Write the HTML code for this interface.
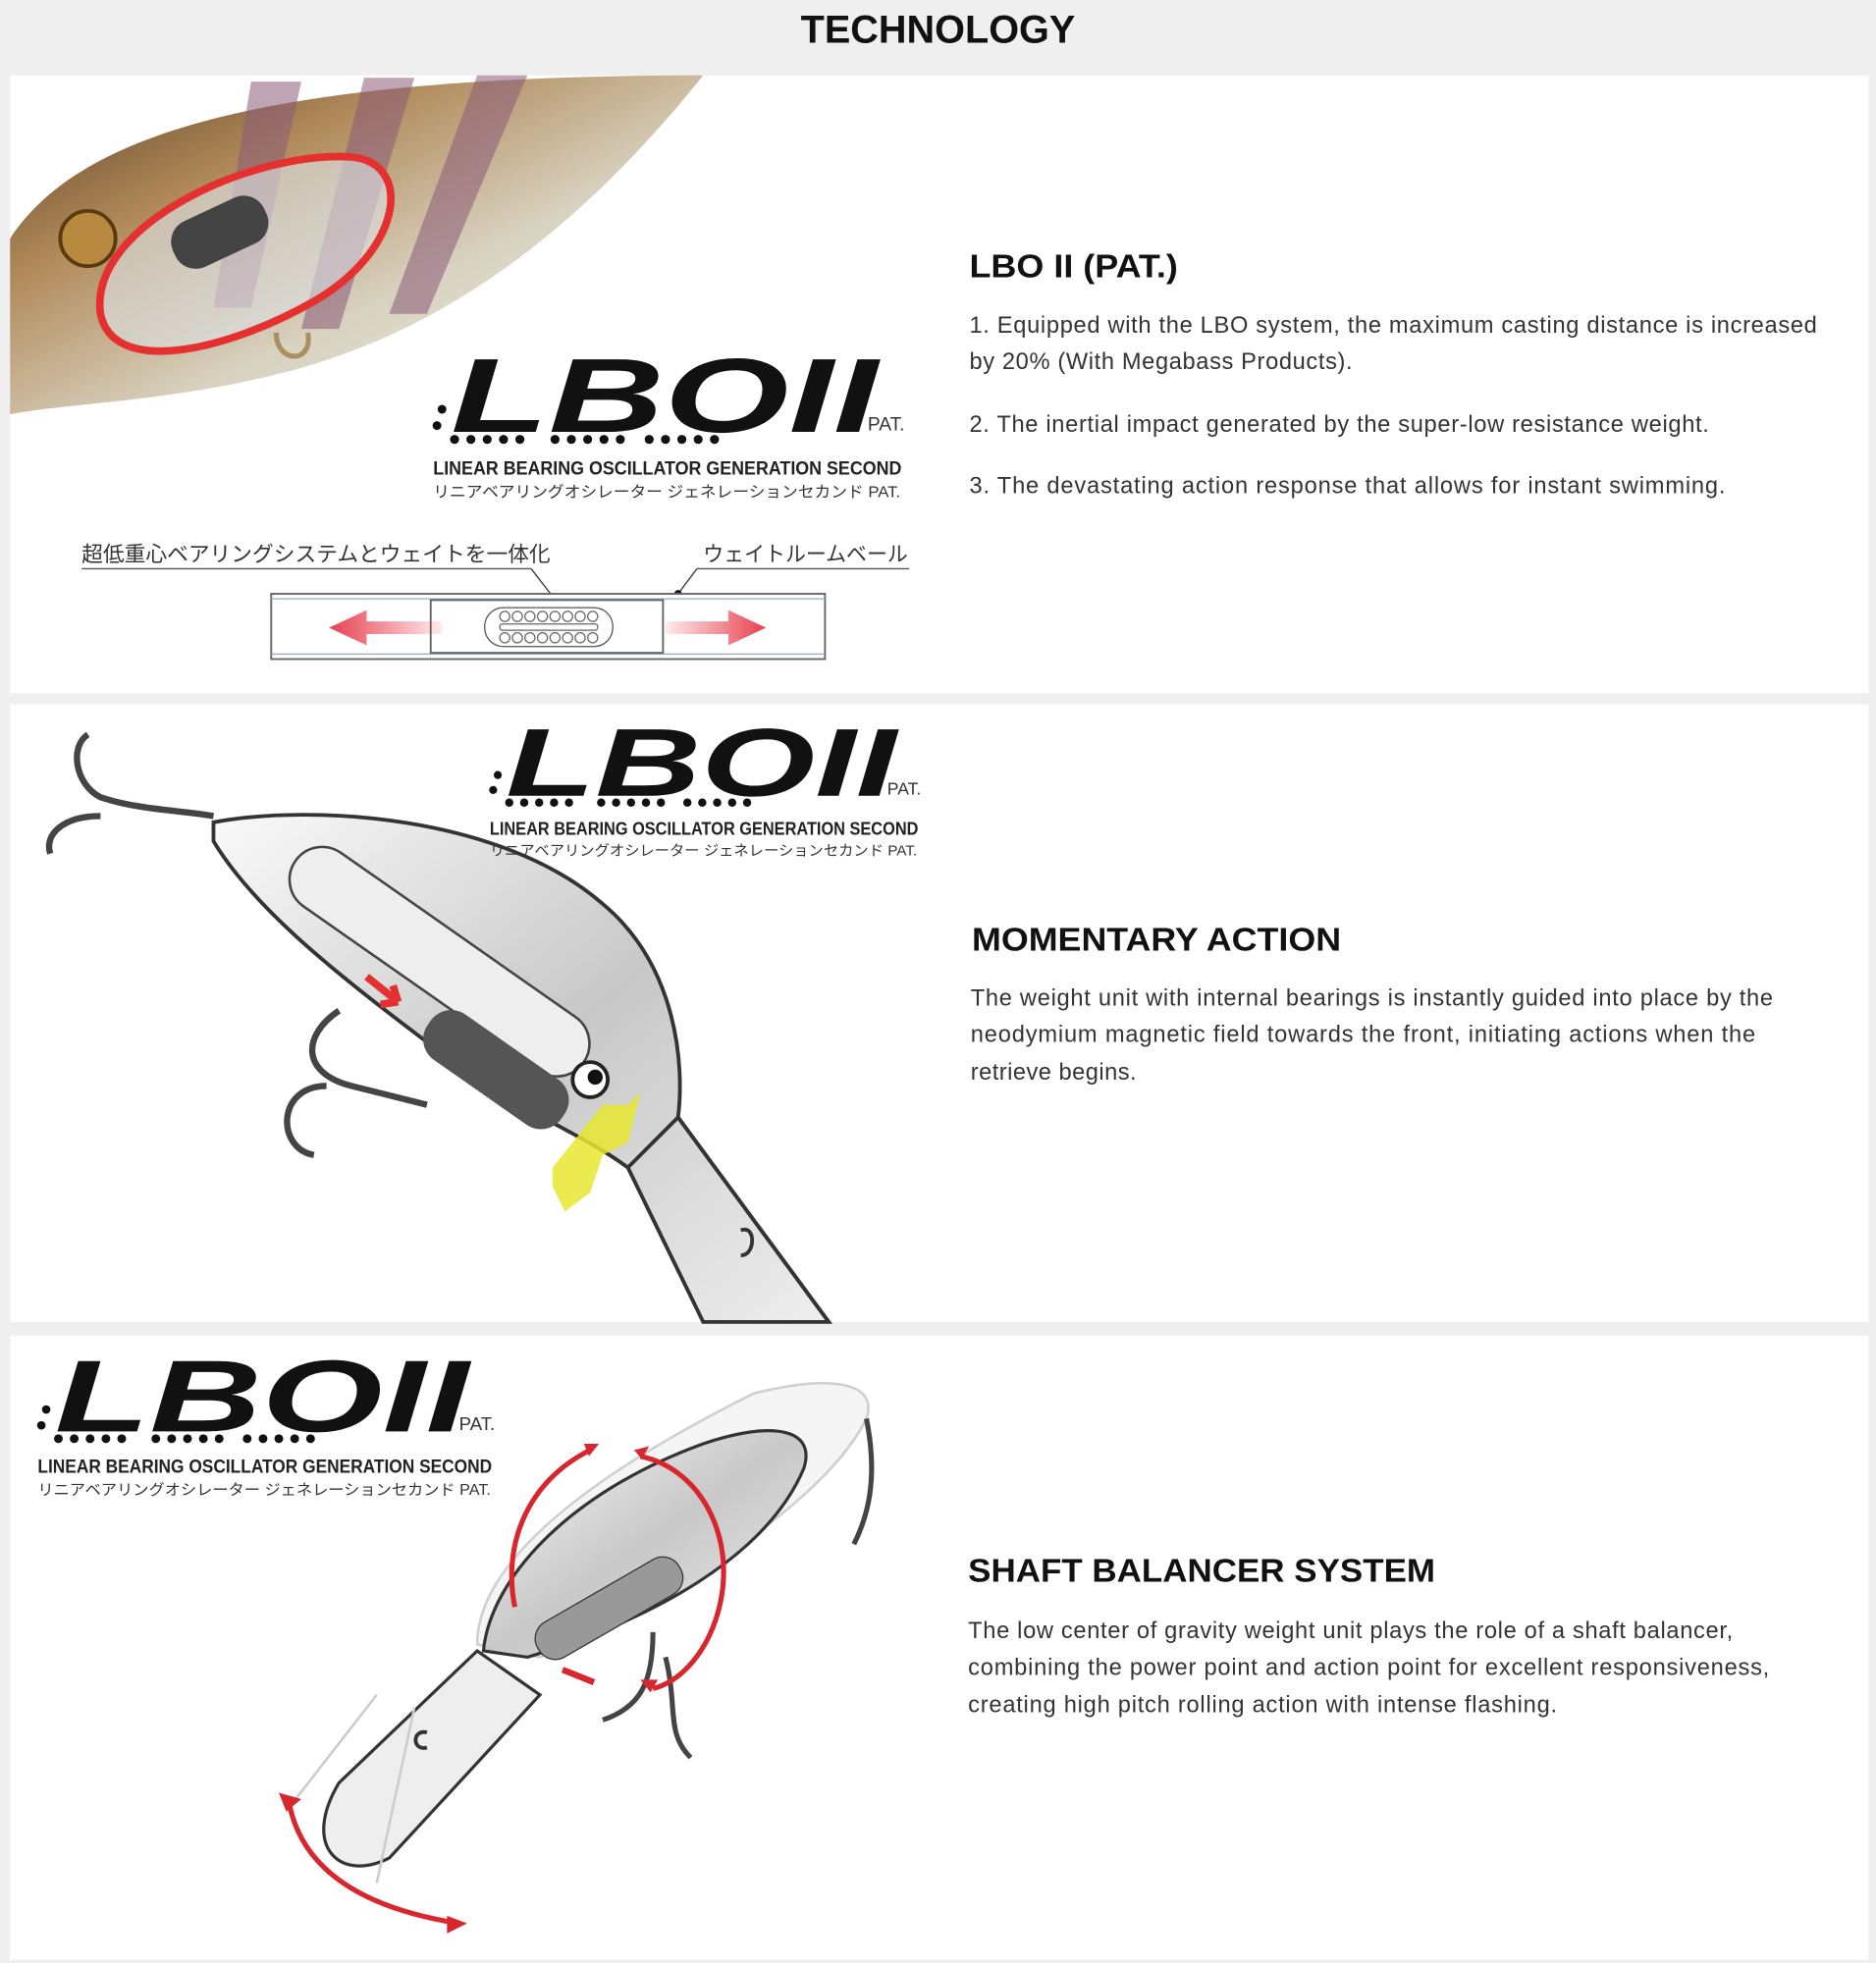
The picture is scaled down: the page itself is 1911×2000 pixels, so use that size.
<!DOCTYPE html>
<html><head><meta charset="utf-8"><style>
html,body{margin:0;padding:0;background:#efefef;}
svg{display:block;}
</style></head><body>
<svg xmlns="http://www.w3.org/2000/svg" width="1911" height="2000" viewBox="0 0 1494 1563.6">
<defs>
<linearGradient id="fish" x1="0" y1="0" x2="1" y2="1">
<stop offset="0" stop-color="#5a3a20"/><stop offset="0.3" stop-color="#b08a5a"/><stop offset="0.6" stop-color="#d8d2c0"/><stop offset="1" stop-color="#eef0ee"/></linearGradient>
<linearGradient id="body" x1="0" y1="0" x2="1" y2="1">
<stop offset="0" stop-color="#fafafa"/><stop offset="0.5" stop-color="#c8c8c8"/><stop offset="1" stop-color="#eeeeee"/></linearGradient>
<linearGradient id="arL" x1="0" x2="1"><stop offset="0" stop-color="#e8404f"/><stop offset="1" stop-color="#e8404f" stop-opacity="0.1"/></linearGradient>
<linearGradient id="arR" x1="0" x2="1"><stop offset="0" stop-color="#e8404f" stop-opacity="0.1"/><stop offset="1" stop-color="#e8404f"/></linearGradient>
</defs>
<rect width="1494" height="1564" fill="#efefef"/>
<text x="747" y="34" text-anchor="middle" font-family="Liberation Sans, sans-serif" font-weight="bold" font-size="31" fill="#111">TECHNOLOGY</text>
<rect x="8" y="60" width="1480" height="492" fill="#fff"/>
<rect x="8" y="561" width="1480" height="492" fill="#fff"/>
<rect x="8" y="1064" width="1480" height="497" fill="#fff"/>

<!-- Panel 1 lure photo -->
<path d="M8,190 C60,110 200,60 560,60 C480,160 380,250 250,290 C150,320 60,320 8,330 Z" fill="url(#fish)"/>
<path d="M200,65 l40,0 l-40,180 l-30,0 Z M290,62 l40,0 l-60,200 l-30,0 Z M380,60 l40,0 l-80,190 l-30,0 Z" fill="#8a5a78" opacity="0.55"/>
<circle cx="70" cy="190" r="22" fill="#b88a40" stroke="#5a3a10" stroke-width="3"/>
<path d="M80,250 C70,180 200,120 280,125 C330,130 320,200 250,240 C180,280 90,300 80,250 Z" fill="#dde2e6" fill-opacity="0.6" stroke="#e53030" stroke-width="6"/>
<rect x="135" y="165" width="80" height="40" rx="18" fill="#444" transform="rotate(-25 175 185)"/>
<path d="M220,265 c0,25 30,25 25,0" fill="none" stroke="#aa9060" stroke-width="4"/>

<!-- Logo template -->
<g id="l1" transform="translate(345,283)">
<circle cx="7" cy="43" r="3.5" fill="#111"/><circle cx="3" cy="56" r="3.5" fill="#111"/>
<text x="14" y="61" font-family="Liberation Sans, sans-serif" font-weight="bold" font-style="italic" font-size="84" textLength="340" lengthAdjust="spacingAndGlyphs" fill="#111">LBOII</text>
<g fill="#111"><circle cx="17" cy="67" r="3.6"/><circle cx="30" cy="67" r="3.6"/><circle cx="43" cy="67" r="3.6"/><circle cx="56" cy="67" r="3.6"/><circle cx="69" cy="67" r="3.6"/>
<circle cx="97" cy="67" r="3.6"/><circle cx="110" cy="67" r="3.6"/><circle cx="123" cy="67" r="3.6"/><circle cx="136" cy="67" r="3.6"/><circle cx="149" cy="67" r="3.6"/>
<circle cx="172" cy="67" r="3.6"/><circle cx="185" cy="67" r="3.6"/><circle cx="198" cy="67" r="3.6"/><circle cx="211" cy="67" r="3.6"/><circle cx="224" cy="67" r="3.6"/></g>
<text x="346" y="60" font-family="Liberation Sans, sans-serif" font-size="15" fill="#333">PAT.</text>
<text x="0" y="95" font-family="Liberation Sans, sans-serif" font-weight="bold" font-size="15.5" textLength="373" lengthAdjust="spacingAndGlyphs" fill="#222">LINEAR BEARING OSCILLATOR GENERATION SECOND</text>
<text x="0" y="113" font-family="Liberation Sans, 'Noto Sans CJK JP', sans-serif" font-size="12.5" textLength="372" lengthAdjust="spacingAndGlyphs" fill="#333">リニアベアリングオシレーター ジェネレーションセカンド PAT.</text>
</g>

<!-- Panel 1 diagram -->
<text x="65" y="447" font-family="Liberation Sans, 'Noto Sans CJK JP', sans-serif" font-size="17" fill="#333">超低重心ベアリングシステムとウェイトを一体化</text>
<line x1="65" y1="453" x2="423" y2="453" stroke="#555" stroke-width="1"/>
<text x="560" y="447" font-family="Liberation Sans, 'Noto Sans CJK JP', sans-serif" font-size="17" textLength="163" lengthAdjust="spacingAndGlyphs" fill="#333">ウェイトルームベール</text>
<line x1="555" y1="453" x2="724" y2="453" stroke="#555" stroke-width="1"/>
<line x1="423" y1="453" x2="447" y2="484" stroke="#333"/><circle cx="447" cy="484" r="3" fill="#111"/>
<line x1="555" y1="453" x2="540" y2="473" stroke="#333"/><circle cx="540" cy="473" r="3" fill="#111"/>
<rect x="216" y="473" width="441" height="52" fill="#fff" stroke="#667" stroke-width="1.5"/>
<line x1="216" y1="477" x2="657" y2="477" stroke="#9ab" />
<line x1="216" y1="521" x2="657" y2="521" stroke="#9ab" />
<rect x="343" y="478" width="185" height="42" fill="#fff" stroke="#666" stroke-width="1.5"/>
<rect x="386" y="484" width="102" height="31" rx="15" fill="none" stroke="#555"/>
<g fill="none" stroke="#666" stroke-width="1">
<circle cx="402" cy="491" r="4"/><circle cx="412" cy="491" r="4"/><circle cx="422" cy="491" r="4"/><circle cx="432" cy="491" r="4"/><circle cx="442" cy="491" r="4"/><circle cx="452" cy="491" r="4"/><circle cx="462" cy="491" r="4"/><circle cx="472" cy="491" r="4"/>
<circle cx="402" cy="508" r="4"/><circle cx="412" cy="508" r="4"/><circle cx="422" cy="508" r="4"/><circle cx="432" cy="508" r="4"/><circle cx="442" cy="508" r="4"/><circle cx="452" cy="508" r="4"/><circle cx="462" cy="508" r="4"/><circle cx="472" cy="508" r="4"/>
<rect x="398" y="497" width="78" height="5" rx="2"/></g>
<path d="M262,500 l30,-14 v9 h60 v10 h-60 v9 z" fill="url(#arL)"/>
<path d="M530,495 h50 v-9 l30,14 l-30,14 v-9 h-50 z" fill="url(#arR)"/>

<text x="772" y="221" font-family="Liberation Sans, sans-serif" font-weight="bold" font-size="26" textLength="166" lengthAdjust="spacingAndGlyphs" fill="#111">LBO II (PAT.)</text>
<g font-family="Liberation Sans, sans-serif" font-size="18.5" fill="#333" lengthAdjust="spacingAndGlyphs">
<text x="772" y="265" textLength="675">1. Equipped with the LBO system, the maximum casting distance is increased</text>
<text x="772" y="294" textLength="305">by 20% (With Megabass Products).</text>
<text x="772" y="344" textLength="589">2. The inertial impact generated by the super-low resistance weight.</text>
<text x="772" y="393" textLength="602">3. The devastating action response that allows for instant swimming.</text>
</g>

<!-- Panel 2 -->
<path d="M70,585 c-15,10 -10,40 10,50 c30,10 60,10 90,15 M80,650 c-30,0 -45,15 -40,30" fill="none" stroke="#444" stroke-width="5"/>
<path d="M170,655 C250,640 400,650 480,720 C540,770 545,850 540,890 L660,1053 L560,1053 L500,930 C460,900 400,880 340,830 C260,770 200,720 170,670 Z" fill="url(#body)" stroke="#333" stroke-width="3"/>
<path d="M500,930 L540,890 L660,1053" fill="none" stroke="#333" stroke-width="3"/>
<rect x="210" y="740" width="280" height="52" rx="26" fill="#eee" stroke="#444" stroke-width="2" transform="rotate(35 350 766)"/>
<rect x="330" y="830" width="130" height="44" rx="20" fill="#555" transform="rotate(35 395 852)"/>
<circle cx="470" cy="860" r="14" fill="#fff" stroke="#222" stroke-width="3"/><circle cx="474" cy="858" r="6" fill="#111"/>
<path d="M440,930 l20,-25 l20,-25 l20,0 l10,-10 l-10,40 l-20,10 l-10,30 l-20,15 l-10,-20 z" fill="#e8e830" opacity="0.85"/>
<path d="M292,778 l25,20 m0,0 l-14,2 m14,-2 l-4,-13" stroke="#e53030" stroke-width="6" fill="none"/>
<path d="M270,805 c-30,20 -30,50 10,60 l60,15 M260,865 c-40,0 -40,50 -10,55" fill="none" stroke="#444" stroke-width="5"/>
<path d="M590,980 c12,-5 12,20 0,20" fill="none" stroke="#333" stroke-width="3"/>
<g transform="translate(390,578) scale(0.915) translate(-345,-283)"><use href="#l1"/></g>

<text x="774" y="757" font-family="Liberation Sans, sans-serif" font-weight="bold" font-size="26" textLength="294" lengthAdjust="spacingAndGlyphs" fill="#111">MOMENTARY ACTION</text>
<g font-family="Liberation Sans, sans-serif" font-size="18.5" fill="#333" lengthAdjust="spacingAndGlyphs">
<text x="773" y="801" textLength="639">The weight unit with internal bearings is instantly guided into place by the</text>
<text x="773" y="830" textLength="625">neodymium magnetic field towards the front, initiating actions when the</text>
<text x="773" y="860" textLength="132">retrieve begins.</text>
</g>

<!-- Panel 3 -->
<g transform="translate(30,1081) scale(0.97) translate(-345,-283)"><use href="#l1"/></g>
<path d="M380,1310 C380,1240 480,1170 600,1110 C660,1095 700,1100 690,1130 C660,1190 560,1260 430,1320 Z" fill="#f2f2f2" stroke="#bbb" stroke-width="2" opacity="0.7"/>
<path d="M385,1315 C390,1260 450,1190 560,1150 C620,1130 650,1140 640,1170 C610,1240 520,1290 420,1320 Z" fill="url(#body)" stroke="#333" stroke-width="2.5"/>
<rect x="420" y="1265" width="130" height="32" rx="15" fill="#999" stroke="#333" transform="rotate(-30 485 1281)"/>
<path d="M380,1315 L270,1420 C240,1470 270,1500 310,1480 L430,1350 Z" fill="#eee" stroke="#333" stroke-width="2.5"/>
<path d="M300,1350 L230,1440 M330,1360 L300,1500" stroke="#ccc" stroke-width="2" fill="none"/>
<path d="M340,1380 c-12,-3 -12,15 0,12" fill="none" stroke="#333" stroke-width="3"/>
<path d="M520,1300 c0,40 -10,60 -40,70 M530,1320 c10,40 0,60 20,80 M690,1130 c10,50 0,80 -10,100" fill="none" stroke="#444" stroke-width="4"/>
<path d="M470,1155 C420,1180 400,1230 410,1280 M510,1160 C560,1170 590,1230 570,1290 C560,1320 540,1340 520,1345" fill="none" stroke="#d8262e" stroke-width="4"/>
<path d="M465,1150 l12,0 l-8,10 z M505,1155 l12,-3 l-6,10 z M518,1348 l-8,-10 l14,0 z" fill="#d8262e"/>
<path d="M230,1435 C240,1490 290,1520 365,1532" fill="none" stroke="#d8262e" stroke-width="4"/>
<path d="M222,1428 l18,5 l-12,10 z M372,1532 l-16,8 l0,-14 z" fill="#d8262e"/>
<path d="M448,1330 l25,10" stroke="#d8262e" stroke-width="5"/>

<text x="771" y="1260" font-family="Liberation Sans, sans-serif" font-weight="bold" font-size="26" textLength="372" lengthAdjust="spacingAndGlyphs" fill="#111">SHAFT BALANCER SYSTEM</text>
<g font-family="Liberation Sans, sans-serif" font-size="18.5" fill="#333" lengthAdjust="spacingAndGlyphs">
<text x="771" y="1305" textLength="609">The low center of gravity weight unit plays the role of a shaft balancer,</text>
<text x="771" y="1334" textLength="638">combining the power point and action point for excellent responsiveness,</text>
<text x="771" y="1364" textLength="469">creating high pitch rolling action with intense flashing.</text>
</g>
</svg>
</body></html>
